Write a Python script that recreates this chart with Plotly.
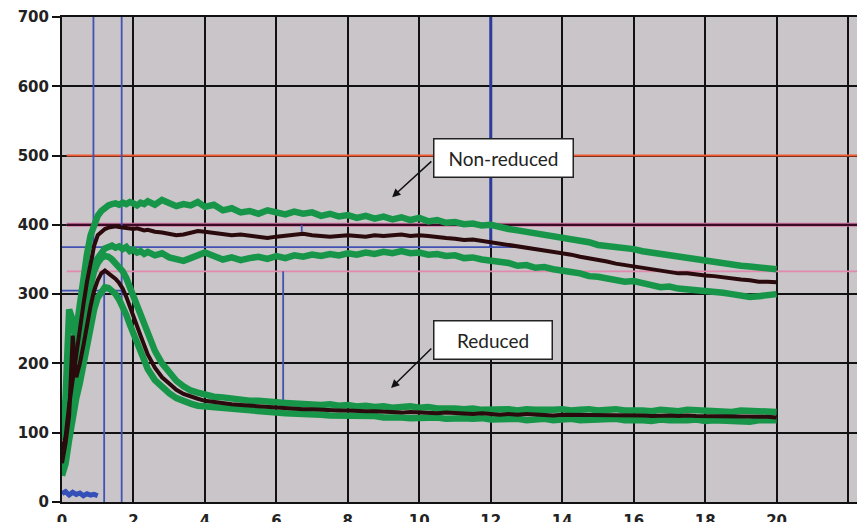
import plotly.graph_objects as go

# ---------------- data ----------------
T = [0, 0.1, 0.2, 0.3, 0.4, 0.5, 0.6, 0.7, 0.8, 0.9, 1.0, 1.1, 1.2, 1.3, 1.4, 1.5, 1.6, 1.7, 1.8, 1.9,
     2.0, 2.1, 2.2, 2.3, 2.4, 2.6, 2.8, 3.0, 3.2, 3.4, 3.6, 3.8, 4.0,
     4.25, 4.5, 4.75, 5.0, 5.25, 5.5, 5.75, 6.0, 6.25, 6.5, 6.75, 7.0, 7.25, 7.5, 7.75, 8.0,
     8.25, 8.5, 8.75, 9.0, 9.25, 9.5, 9.75, 10.0, 10.25, 10.5, 10.75, 11.0, 11.25, 11.5, 11.75, 12.0,
     12.25, 12.5, 12.75, 13.0, 13.25, 13.5, 13.75, 14.0, 14.25, 14.5, 14.75, 15.0, 15.25, 15.5, 15.75, 16.0,
     16.25, 16.5, 16.75, 17.0, 17.25, 17.5, 17.75, 18.0, 18.25, 18.5, 18.75, 19.0, 19.25, 19.5, 19.75, 20.0]

# Non-reduced: mean (dark) and upper / lower band (green)
NR_MEAN = [75, 94, 140, 178, 212, 248, 285, 318, 348, 370, 385, 390, 394, 396, 397, 398, 397, 396, 396, 395,
           394, 395, 393, 392, 393, 390, 389, 387, 385, 386, 389, 391, 390,
           388, 387, 385, 386, 384, 382, 381, 383, 384, 386, 387, 385, 384, 383, 384, 385,
           384, 383, 385, 384, 385, 386, 384, 385, 384, 382, 381, 380, 378, 379, 377, 376,
           374, 372, 370, 367, 366, 364, 361, 359, 357, 354, 352, 349, 347, 344, 342, 340,
           338, 336, 333, 332, 330, 330, 328, 327, 326, 324, 322, 321, 320, 318, 318, 317]
NR_UP = [100, 130, 175, 215, 250, 290, 325, 358, 385, 402, 413, 420, 425, 428, 430, 431, 429, 432, 430, 433,
         431, 428, 432, 430, 434, 429, 436, 432, 427, 430, 428, 433, 426,
         429, 421, 424, 418, 420, 416, 421, 418, 415, 419, 416, 418, 413, 416, 412, 414,
         410, 413, 409, 412, 408, 411, 407, 410, 405, 407, 403, 404, 401, 402, 399, 400,
         396, 394, 392, 390, 387, 386, 383, 381, 379, 376, 375, 371, 370, 367, 366, 365,
         362, 360, 357, 356, 353, 352, 350, 349, 346, 345, 342, 341, 340, 338, 337, 336]
NR_LO = [50, 75, 110, 150, 190, 225, 262, 295, 322, 342, 352, 360, 366, 368, 370, 367, 369, 365, 368, 362,
         364, 360, 362, 358, 361, 356, 359, 353, 350, 348, 352, 357, 360,
         355, 350, 353, 349, 352, 354, 351, 355, 352, 356, 354, 357, 355, 358, 356, 359,
         357, 360, 358, 361, 359, 362, 359, 360, 357, 358, 355, 356, 352, 353, 350, 349,
         346, 345, 341, 342, 338, 339, 336, 335, 332, 330, 326, 325, 322, 320, 318, 319,
         315, 313, 310, 311, 308, 307, 305, 306, 303, 302, 300, 297, 296, 297, 298, 300]

# Reduced: mean (dark) and upper / lower band (green)
R_MEAN = [56, 85, 125, 240, 180, 200, 226, 256, 283, 305, 320, 330, 334, 330, 326, 322, 316, 308, 296, 283,
          268, 254, 240, 226, 213, 194, 180, 171, 162, 156, 152, 149, 146,
          144, 142, 141, 140, 139, 138, 137, 136, 136, 135, 134, 134, 133, 133, 132, 132,
          131, 131, 131, 130, 130, 129, 130, 129, 129, 128, 129, 128, 128, 127, 128, 127,
          126, 127, 126, 127, 126, 126, 125, 126, 126, 125, 126, 125, 125, 126, 125, 125,
          125, 124, 125, 125, 124, 125, 124, 124, 124, 124, 123, 124, 123, 123, 123, 122]
R_UP = [90, 150, 278, 262, 230, 250, 270, 295, 315, 333, 345, 352, 355, 354, 350, 345, 340, 333, 323, 310,
        296, 282, 268, 254, 240, 218, 200, 186, 175, 167, 161, 158, 155,
        152, 151, 149, 148, 146, 146, 144, 144, 143, 142, 142, 141, 140, 141, 139, 140,
        138, 139, 137, 138, 136, 137, 138, 136, 137, 135, 136, 135, 134, 135, 133, 134,
        133, 134, 132, 134, 133, 132, 133, 134, 132, 133, 134, 132, 133, 134, 132, 133,
        132, 131, 133, 132, 131, 133, 132, 131, 132, 131, 130, 132, 131, 130, 131, 130]
R_LO = [38, 55, 90, 125, 150, 172, 198, 228, 255, 278, 295, 305, 310, 309, 305, 300, 292, 283, 270, 256,
        242, 228, 214, 202, 192, 176, 165, 157, 150, 145, 142, 139, 138,
        136, 135, 133, 132, 131, 130, 130, 129, 128, 128, 127, 126, 126, 125, 125, 124,
        124, 123, 124, 122, 123, 122, 121, 122, 121, 122, 120, 121, 121, 120, 121, 119,
        120, 119, 120, 118, 119, 120, 118, 119, 120, 118, 119, 118, 119, 120, 118, 119,
        118, 117, 119, 118, 117, 118, 119, 117, 118, 117, 118, 117, 116, 118, 117, 118]

# small blue trace near zero at the start
BLUE_X = [0, 0.1, 0.2, 0.3, 0.4, 0.5, 0.6, 0.7, 0.8, 0.9, 1.0]
BLUE_Y = [12, 15, 10, 14, 11, 13, 9, 12, 10, 11, 9]

# blue cursor / marker lines: (x0, y0, x1, y1)
BLUE_SEGMENTS = [
    (0.88, 305, 0.88, 700),
    (1.18, 0, 1.18, 335),
    (1.67, 0, 1.67, 700),
    (0, 305, 1.67, 305),
    (0, 368, 12.8, 368),
    (6.19, 143, 6.19, 333),
    (6.71, 390, 6.71, 400),
]
BLUE_MAIN = (12.0, 368, 12.0, 700)

# horizontal limit lines
RED_LEVEL = 500
PURPLE_LEVEL = 400
PINK_LEVEL = 333
LIMIT_X = [0.13, 22.25]

X_TICKS = [0, 2, 4, 6, 8, 10, 12, 14, 16, 18, 20, 22]
Y_TICKS = [0, 100, 200, 300, 400, 500, 600, 700]

# ---------------- figure ----------------
GREEN = "#17964a"
DARK = "#2a0a0c"
BLUE = "#4152b4"

fig = go.Figure()

# reference lines (below the curves)
fig.add_trace(go.Scatter(x=LIMIT_X, y=[RED_LEVEL] * 2, mode="lines",
                         line=dict(color="#f25a32", width=2), hoverinfo="skip"))
fig.add_trace(go.Scatter(x=LIMIT_X, y=[PURPLE_LEVEL] * 2, mode="lines",
                         line=dict(color="#d27aa6", width=4), hoverinfo="skip"))
fig.add_trace(go.Scatter(x=LIMIT_X, y=[PURPLE_LEVEL] * 2, mode="lines",
                         line=dict(color="#3a0a26", width=2.2), hoverinfo="skip"))
fig.add_trace(go.Scatter(x=LIMIT_X, y=[PINK_LEVEL] * 2, mode="lines",
                         line=dict(color="#e08aae", width=1.8), hoverinfo="skip"))

for (x0, y0, x1, y1) in BLUE_SEGMENTS:
    fig.add_trace(go.Scatter(x=[x0, x1], y=[y0, y1], mode="lines",
                             line=dict(color=BLUE, width=1.8), hoverinfo="skip"))
fig.add_trace(go.Scatter(x=[BLUE_MAIN[0], BLUE_MAIN[2]], y=[BLUE_MAIN[1], BLUE_MAIN[3]], mode="lines",
                         line=dict(color="#2b3a9c", width=3), hoverinfo="skip"))

fig.add_trace(go.Scatter(x=BLUE_X, y=BLUE_Y, mode="lines",
                         line=dict(color="#3550b8", width=5), hoverinfo="skip"))

# green bands
for series in (NR_UP, NR_LO, R_UP, R_LO):
    fig.add_trace(go.Scatter(x=T, y=series, mode="lines",
                             line=dict(color=GREEN, width=6.5), hoverinfo="skip"))
# means
for series in (NR_MEAN, R_MEAN):
    fig.add_trace(go.Scatter(x=T, y=series, mode="lines",
                             line=dict(color=DARK, width=4), hoverinfo="skip"))

# annotations
label_font = dict(family="Lato, 'Open Sans', sans-serif", size=19, color="#222222")
fig.add_annotation(x=12.35, y=496, text="Non-reduced", showarrow=False, font=label_font,
                   bgcolor="white", bordercolor="#222222", borderwidth=1.5, borderpad=0,
                   width=138, height=37, xref="x", yref="y")
fig.add_annotation(x=12.05, y=233.8, text="Reduced", showarrow=False, font=label_font,
                   bgcolor="white", bordercolor="#222222", borderwidth=1.5, borderpad=0,
                   width=117, height=37, xref="x", yref="y")
fig.add_annotation(x=9.24, y=440, ax=10.38, ay=493.6, axref="x", ayref="y", xref="x", yref="y",
                   text="", showarrow=True, arrowhead=2, arrowsize=1.1, arrowwidth=1.5,
                   arrowcolor="#111111", standoff=0, startstandoff=0)
fig.add_annotation(x=9.21, y=164.5, ax=10.38, ay=223.7, axref="x", ayref="y", xref="x", yref="y",
                   text="", showarrow=True, arrowhead=2, arrowsize=1.1, arrowwidth=1.5,
                   arrowcolor="#111111", standoff=0, startstandoff=0)

tick_font = dict(family="DejaVu Sans", size=15, color="#222222", weight="bold")
fig.update_layout(
    width=857, height=522,
    margin=dict(l=62, r=0, t=17, b=20),
    paper_bgcolor="white",
    plot_bgcolor="#c9c5c8",
    showlegend=False,
    xaxis=dict(range=[0, 22.25], tickvals=X_TICKS, ticktext=[str(v) for v in X_TICKS],
               showgrid=True, gridcolor="#111111", gridwidth=2,
               showline=True, linecolor="#111111", linewidth=2, mirror=True,
               ticks="outside", ticklen=4, tickcolor="rgba(0,0,0,0)",
               zeroline=False, tickfont=tick_font, automargin=False),
    yaxis=dict(range=[0, 700], tickvals=Y_TICKS, ticktext=[str(v) for v in Y_TICKS],
               showgrid=True, gridcolor="#111111", gridwidth=2,
               showline=True, linecolor="#111111", linewidth=2,
               ticks="outside", ticklen=8, tickwidth=1.5, tickcolor="#111111",
               zeroline=False, tickfont=tick_font, automargin=False),
)

fig.write_html("out.html", config={"displayModeBar": False},
               post_script="document.body.style.margin='0px';document.body.style.padding='0px';")
